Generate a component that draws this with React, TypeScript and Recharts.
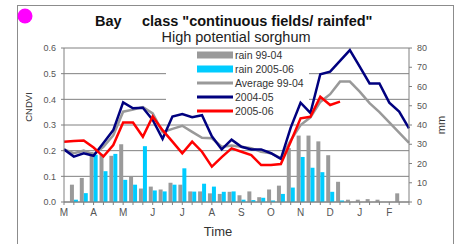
import React from 'react';
import { ComposedChart, Bar, Line, XAxis, YAxis, CartesianGrid, Customized } from 'recharts';

// 36 dekads, March to February
const monthLetters = ['M', 'A', 'M', 'J', 'J', 'A', 'S', 'O', 'N', 'D', 'J', 'F'];
const dekads = monthLetters.flatMap((m, mi) => [1, 2, 3].map((d) => `${mi}-${d}`));

const ndviTicks = [0, 0.1, 0.2, 0.3, 0.4, 0.5, 0.6];
const mmTicks = [0, 10, 20, 30, 40, 50, 60, 70, 80];

// rainfall (mm, right axis)
const rain9904 = [0, 9, 12.5, 26, 25, 24, 30, 13, 7, 8, 6.5, 10, 9, 5.5, 5.5, 4.5, 4.2, 5.3, 3.5, 5.5, 2.5, 6.5, 8.5, 28, 34.5, 34.5, 31.5, 24.3, 10.5, 1.2, 1.2, 1.5, 1.2, 0, 4.5, 0];
const rain0506 = [0, 1.2, 4.6, 24.5, 16, 25, 11.5, 9, 29, 6, 5.5, 9, 17.5, 5.4, 9.5, 8, 5.3, 5.5, 1.2, 1, 2.2, 0.8, 4.2, 7.5, 23.4, 17.8, 15.5, 5.3, 0.8, 0, 0, 0, 0, 0, 0, 0];

// CNDVI (left axis)
const avg9904 = [0.205, 0.19, 0.2, 0.185, 0.215, 0.26, 0.352, 0.36, 0.37, 0.345, 0.272, 0.285, 0.297, 0.273, 0.25, 0.248, 0.215, 0.22, 0.215, 0.21, 0.196, 0.19, 0.17, 0.24, 0.3, 0.33, 0.39, 0.42, 0.469, 0.469, 0.43, 0.385, 0.35, 0.31, 0.27, 0.23];
const ndvi0405 = [0.205, 0.177, 0.19, 0.18, 0.23, 0.28, 0.388, 0.365, 0.367, 0.32, 0.246, 0.333, 0.343, 0.33, 0.338, 0.256, 0.205, 0.243, 0.215, 0.205, 0.205, 0.19, 0.168, 0.29, 0.387, 0.347, 0.498, 0.508, 0.55, 0.592, 0.527, 0.462, 0.462, 0.387, 0.352, 0.287];
const ndvi0506 = [0.235, 0.238, 0.24, 0.212, 0.177, 0.222, 0.31, 0.31, 0.254, 0.333, 0.28, 0.235, 0.19, 0.235, 0.196, 0.138, 0.175, 0.209, 0.196, 0.183, 0.144, 0.144, 0.148, 0.235, 0.326, 0.332, 0.41, 0.378, 0.391, null, null, null, null, null, null, null];

const data = dekads.map((dek, i) => ({
  dek,
  rain9904: rain9904[i],
  rain0506: rain0506[i],
  avg9904: avg9904[i],
  ndvi0405: ndvi0405[i],
  ndvi0506: ndvi0506[i],
}));

const FONT = '"Liberation Sans", Arial, sans-serif';
const AXIS = '#808080';
const C_GRAY_BAR = '#9a9a9a';
const C_CYAN = '#00ccff';
const C_AVG = '#999999';
const C_NAVY = '#00007f';
const C_RED = '#ff0000';

const PLOT_W = 345;
const HALF_BAND = PLOT_W / 35 / 2;

const legendItems = [
  { label: 'rain 99-04', color: C_GRAY_BAR, kind: 'bar' },
  { label: 'rain 2005-06', color: C_CYAN, kind: 'bar' },
  { label: 'Average 99-04', color: C_AVG, kind: 'line' },
  { label: '2004-05', color: C_NAVY, kind: 'line' },
  { label: '2005-06', color: C_RED, kind: 'line' },
];

const LegendBox = () => (
  <g>
    <rect x={166} y={49} width={143} height={69} fill="#ffffff" />
    {legendItems.map((it, i) => {
      const cy = 55 + i * 14;
      return (
        <g key={it.label}>
          {it.kind === 'bar' ? (
            <rect x={197} y={cy - 3.5} width={36} height={7} fill={it.color} />
          ) : (
            <line x1={197} x2={233} y1={cy} y2={cy} stroke={it.color} strokeWidth={3} />
          )}
          <text x={235} y={cy + 3.6} fontSize={10.5} fill="#333" fontFamily={FONT}>
            {it.label}
          </text>
        </g>
      );
    })}
  </g>
);

const monthFormatter = (_v: string, i: number) => (i % 3 === 0 ? monthLetters[i / 3] : '');

export default function App() {
  return (
    <div style={{ position: 'absolute', left: 0, top: 0, width: 461, height: 244, background: '#fff', overflow: 'hidden' }}>
      <div style={{ position: 'absolute', left: 17, top: 5, width: 437, height: 260, border: '1px solid #8c8c8c', boxSizing: 'border-box' }} />
      <div style={{ position: 'absolute', left: 0, top: 0 }}>
        <ComposedChart
          width={461}
          height={244}
          data={data}
          barGap={0}
          margin={{ top: 48, right: 22, bottom: 22, left: 34 }}
        >
          <CartesianGrid xAxisId="x" yAxisId="ndvi" vertical={false} stroke={AXIS} strokeWidth={1} />
          <XAxis
            xAxisId="x"
            dataKey="dek"
            interval={0}
            padding={{ left: -HALF_BAND, right: -HALF_BAND }}
            height={20}
            tickSize={3}
            tickMargin={4}
            tickFormatter={monthFormatter}
            stroke={AXIS}
            tick={{ fill: '#555', fontSize: 10, fontFamily: FONT }}
          />
          <YAxis
            yAxisId="ndvi"
            orientation="left"
            domain={[0, 0.6]}
            ticks={ndviTicks}
            width={30}
            tickSize={3}
            tickMargin={5}
            tickFormatter={(v: number) => v.toFixed(1)}
            stroke={AXIS}
            tick={{ fill: '#555', fontSize: 9, fontFamily: FONT }}
          />
          <YAxis
            yAxisId="mm"
            orientation="right"
            domain={[0, 80]}
            ticks={mmTicks}
            width={30}
            tickSize={3}
            tickMargin={5}
            stroke={AXIS}
            tick={{ fill: '#555', fontSize: 9, fontFamily: FONT }}
          />
          <Customized component={LegendBox} />
          <Bar xAxisId="x" yAxisId="mm" dataKey="rain9904" fill={C_GRAY_BAR} barSize={4} isAnimationActive={false} />
          <Bar xAxisId="x" yAxisId="mm" dataKey="rain0506" fill={C_CYAN} barSize={4} isAnimationActive={false} />
          <Line xAxisId="x" yAxisId="ndvi" dataKey="avg9904" stroke={C_AVG} strokeWidth={2.5} dot={false} isAnimationActive={false} />
          <Line xAxisId="x" yAxisId="ndvi" dataKey="ndvi0405" stroke={C_NAVY} strokeWidth={2.5} dot={false} isAnimationActive={false} />
          <Line xAxisId="x" yAxisId="ndvi" dataKey="ndvi0506" stroke={C_RED} strokeWidth={2.5} dot={false} isAnimationActive={false} />
        </ComposedChart>
      </div>
      <svg width={461} height={244} style={{ position: 'absolute', left: 0, top: 0, pointerEvents: 'none' }}>
        <circle cx={25} cy={16} r={7.5} fill="#ff00ff" />
        <text x={95} y={25.5} fontSize={14.5} fontWeight="bold" fill="#111" fontFamily={FONT}>Bay</text>
        <text x={142} y={25.5} fontSize={14.5} fontWeight="bold" fill="#111" fontFamily={FONT}>class "continuous fields/ rainfed"</text>
        <text x={236} y={42} fontSize={14.5} textAnchor="middle" fill="#222" fontFamily={FONT}>High potential sorghum</text>
        <text x={0} y={0} fontSize={9.5} textAnchor="middle" fill="#333" fontFamily={FONT} transform="translate(32,107) rotate(-90)">CNDVI</text>
        <text x={0} y={0} fontSize={11} textAnchor="middle" fill="#333" fontFamily={FONT} transform="translate(445,125) rotate(-90)">mm</text>
        <text x={218} y={236} fontSize={13} textAnchor="middle" fill="#333" fontFamily={FONT}>Time</text>
      </svg>
    </div>
  );
}
